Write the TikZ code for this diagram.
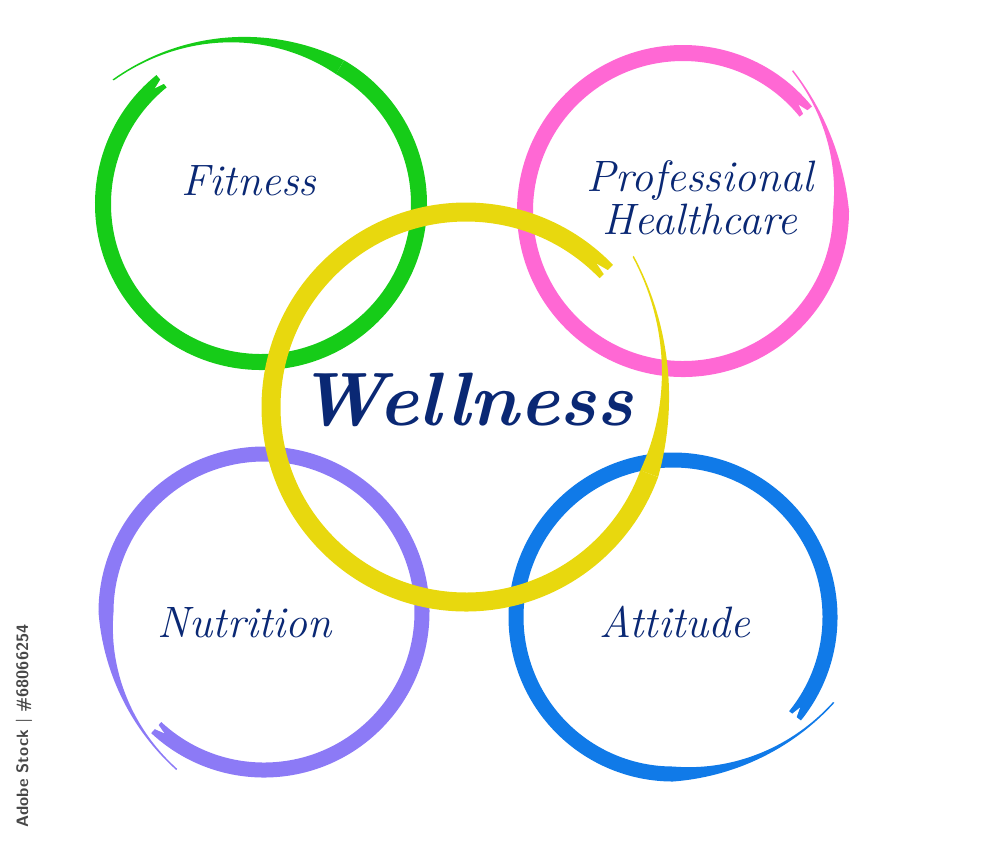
\documentclass[tikz,border=0pt]{standalone}
\usepackage{fontspec}
\definecolor{fitgreen}{RGB}{22,204,24}
\definecolor{carepink}{RGB}{255,104,212}
\definecolor{wellyellow}{RGB}{232,216,14}
\definecolor{nutpurple}{RGB}{140,122,246}
\definecolor{attblue}{RGB}{16,122,232}
\definecolor{inkblue}{RGB}{10,40,116}
\begin{document}
\begin{tikzpicture}[
    x=0.01cm,
    y=0.01cm,
    ringtext/.style={text=inkblue, font=\fontsize{12.5}{10.5}\selectfont\itshape, align=center},
    bigtext/.style={text=inkblue, font=\fontsize{21.5}{24}\selectfont\bfseries\itshape}
]
\useasboundingbox (0,0) rectangle (1000,859);

% brush rings: centre / radius / width / fork angle / merge angle / tip angle / spread / colour
\foreach \cx/\cy/\r/\w/\aa/\ab/\ac/\dr/\col in {
    261/655/158/16/129/420/500/35/fitgreen,
    683/648/158/16/-321/0/52/20/carepink,
    264/247/158/15/227/540/601/22/nutpurple,
    673/242/157/15/-39/270/332/25/attblue,
    466/452/195/19/-316/-20/42/30/wellyellow} {
    \draw[\col, line width=\w*0.2845pt] (\cx,\cy) ++(\aa:\r) arc[start angle=\aa, end angle=\ab, radius=\r];
    \fill[\col] plot[domain=\ab:\ac, samples=50, variable=\t]
        ({\cx+(\r+\dr*((\t-\ab)/(\ac-\ab))^2+(1.5+(\w-1.5)*(1-(\t-\ab)/(\ac-\ab))^2)/2)*cos(\t)},
         {\cy+(\r+\dr*((\t-\ab)/(\ac-\ab))^2+(1.5+(\w-1.5)*(1-(\t-\ab)/(\ac-\ab))^2)/2)*sin(\t)})
        -- plot[domain=\ac:\ab, samples=50, variable=\t]
        ({\cx+(\r+\dr*((\t-\ab)/(\ac-\ab))^2-(1.5+(\w-1.5)*(1-(\t-\ab)/(\ac-\ab))^2)/2)*cos(\t)},
         {\cy+(\r+\dr*((\t-\ab)/(\ac-\ab))^2-(1.5+(\w-1.5)*(1-(\t-\ab)/(\ac-\ab))^2)/2)*sin(\t)})
        -- cycle;
    \fill[white] ([shift={(\cx,\cy)}]{\aa-1}:{\r+3}) -- ([shift={(\cx,\cy)}]{\aa+3.5}:{\r-1})
        -- ([shift={(\cx,\cy)}]{\aa-1}:{\r-4}) -- cycle;
}

\node[ringtext] (fitness) at (249,678) {Fitness};
\node[ringtext] (care) at (700,661) {Professional\\Healthcare};
\node[bigtext] (wellness) at (465,459) {Wellness};
\node[ringtext] (nutrition) at (245,236) {Nutrition};
\node[ringtext] (attitude) at (675,237) {Attitude};
\node[rotate=90, text=black!72, font=\sffamily\bfseries\fontsize{4.7}{5}\selectfont] (stock) at (24,133) {Adobe Stock | \#68066254};
\end{tikzpicture}
\end{document}
